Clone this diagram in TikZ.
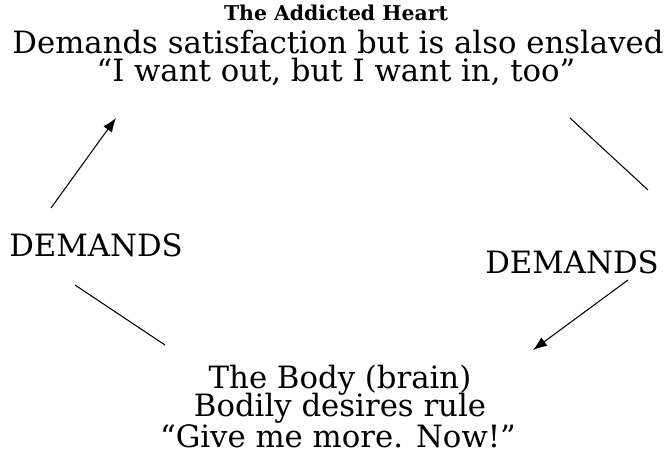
\documentclass[tikz,border=0pt]{standalone}
\usepackage{fontspec}
\setmainfont{DejaVu Serif}
\usepackage{tikz}
\usetikzlibrary{arrows.meta}

\begin{document}
\begin{tikzpicture}[font=\fontsize{17.5}{20}\selectfont, inner sep=0.5pt]
 \useasboundingbox (0,0) rectangle (13.4,9.06); % 枠

 \node[font=\fontsize{11.6}{14}\selectfont\bfseries] (title) at (6.72,8.80) {The Addicted Heart}; % 見出し
 \node (heart) at (6.76,8.21) {Demands satisfaction but is also enslaved}; % 心
 \node (heartsay) at (6.72,7.63) {“I want out, but I want in, too”}; % 心の声

 \node (demL) at (1.92,4.16) {DEMANDS}; % 左
 \node (demR) at (11.44,3.82) {DEMANDS}; % 右

 \node (body) at (6.80,1.46) {The Body (brain)}; % 体
 \node (bodyrule) at (6.80,0.90) {Bodily desires rule}; % 欲求
 \node (bodysay) at (6.76,0.34) {“Give me more. Now!”}; % 体の声

 \coordinate (LA) at (1.02,4.90); % 左矢印始点
 \coordinate (LB) at (2.32,6.70); % 左矢印終点
 \coordinate (LC) at (1.50,3.36); % 左下線始点
 \coordinate (LD) at (3.30,2.16); % 左下線終点
 \coordinate (RA) at (11.40,6.70); % 右上線始点
 \coordinate (RB) at (12.96,5.26); % 右上線終点
 \coordinate (RC) at (12.56,3.46); % 右矢印始点
 \coordinate (RD) at (10.66,2.06); % 右矢印終点

 \draw[semithick,-{Latex[length=8pt,width=6pt]}] (LA) -- (LB); % 矢印
 \draw[semithick] (LC) -- (LD); % 線分
 \draw[semithick] (RA) -- (RB); % 線分
 \draw[semithick,-{Latex[length=8pt,width=6pt]}] (RC) -- (RD); % 矢印
\end{tikzpicture}
\end{document}
